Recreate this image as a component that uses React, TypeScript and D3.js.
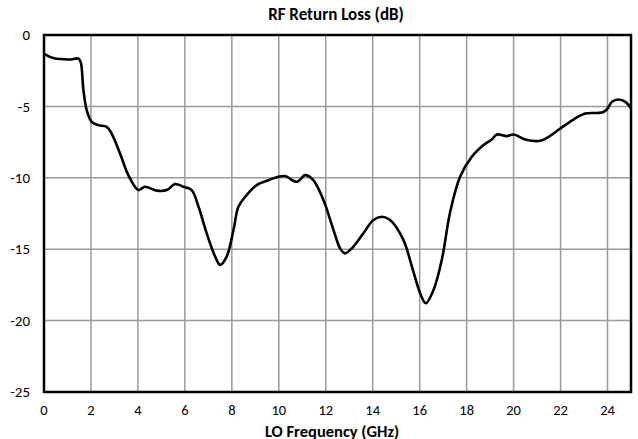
import React from "react";
import * as d3 from "d3";

const freqGHz = [0.0, 0.04, 0.47, 0.75, 1.1, 1.46, 1.56, 1.68, 1.82, 2.03, 2.31, 2.67, 2.88, 3.24, 3.59, 4.02, 4.3, 4.8, 5.23, 5.58, 5.94, 6.29, 6.58, 6.93, 7.29, 7.5, 7.78, 8.07, 8.28, 8.57, 9.06, 9.49, 9.98, 10.27, 10.77, 11.12, 11.47, 11.9, 12.33, 12.61, 12.82, 13.11, 13.6, 14.03, 14.39, 14.74, 15.31, 15.67, 16.02, 16.26, 16.59, 16.94, 17.3, 17.72, 18.22, 18.72, 19.07, 19.29, 19.71, 20.0, 20.49, 21.13, 21.49, 21.99, 22.55, 23.05, 23.76, 23.97, 24.19, 24.47, 24.76, 25.0];
const returnLossDb = [-1.3, -1.35, -1.65, -1.68, -1.72, -1.65, -1.88, -3.87, -5.27, -6.08, -6.31, -6.43, -6.9, -8.3, -9.81, -10.86, -10.63, -10.9, -10.86, -10.44, -10.63, -10.86, -12.03, -13.89, -15.52, -16.1, -15.52, -13.66, -12.03, -11.33, -10.51, -10.21, -9.93, -9.88, -10.28, -9.81, -10.16, -11.56, -13.66, -14.94, -15.29, -14.94, -13.89, -12.96, -12.73, -12.96, -14.36, -16.22, -18.08, -18.78, -17.85, -15.76, -12.38, -9.93, -8.53, -7.71, -7.31, -6.97, -7.08, -6.97, -7.31, -7.41, -7.13, -6.55, -5.92, -5.5, -5.43, -5.22, -4.68, -4.52, -4.68, -5.15];
const xTicks = [0, 2, 4, 6, 8, 10, 12, 14, 16, 18, 20, 22, 24];
const yTicks = [0, -5, -10, -15, -20, -25];
const chartTitle = "RF Return Loss (dB)";
const xTitle = "LO Frequency (GHz)";

export default function App() {
  const W = 638, H = 439;
  const left = 44, right = 631, top = 35, bottom = 392;
  const x = d3.scaleLinear().domain([0, 25]).range([left, right]);
  const y = d3.scaleLinear().domain([-25, 0]).range([bottom, top]);
  const pts: [number, number][] = freqGHz.map((f, i) => [f, returnLossDb[i]]);
  const line = d3
    .line<[number, number]>()
    .x((d) => x(d[0]))
    .y((d) => y(d[1]))
    .curve(d3.curveCatmullRom.alpha(0.5));
  const font = "Carlito, Lato, 'Open Sans', sans-serif";
  return (
    <svg
      width={W}
      height={H}
      style={{ position: "absolute", left: 0, top: 0, background: "#fff" }}
      fontFamily={font}
    >
      <rect x={0} y={0} width={W} height={H} fill="#fff" />
      {xTicks.map((t) => (
        <line key={"gx" + t} x1={x(t)} x2={x(t)} y1={top} y2={bottom} stroke="#999" strokeWidth={1.5} />
      ))}
      {yTicks.map((t) => (
        <line key={"gy" + t} x1={left} x2={right} y1={y(t)} y2={y(t)} stroke="#999" strokeWidth={1.5} />
      ))}
      <path d={line(pts) || ""} fill="none" stroke="#000" strokeWidth={2.6} strokeLinejoin="round" />
      <rect x={left} y={top} width={right - left} height={bottom - top} fill="none" stroke="#000" strokeWidth={2.5} />
      {yTicks.map((t) => (
        <text key={"ly" + t} x={30} y={y(t)} dy="0.35em" textAnchor="end" fontSize={15} fill="#000">
          {t}
        </text>
      ))}
      {xTicks.map((t) => (
        <text key={"lx" + t} x={x(t)} y={410} dy="0.35em" textAnchor="middle" fontSize={14.5} fill="#000">
          {t}
        </text>
      ))}
      <text x={336} y={20} textAnchor="middle" fontSize={17} fontWeight="bold" fill="#000">
        {chartTitle}
      </text>
      <text x={332} y={436.5} textAnchor="middle" fontSize={16.5} fontWeight="bold" fill="#000">
        {xTitle}
      </text>
    </svg>
  );
}
